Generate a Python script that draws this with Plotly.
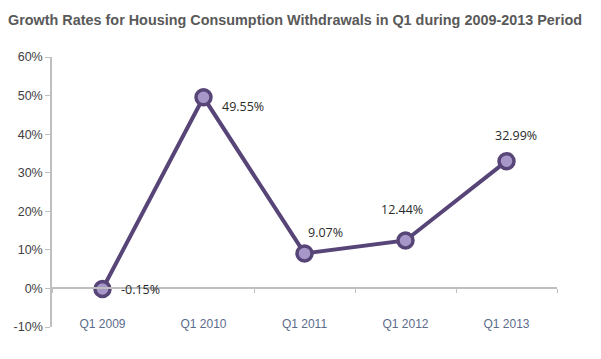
import plotly.graph_objects as go

categories = ["Q1 2009", "Q1 2010", "Q1 2011", "Q1 2012", "Q1 2013"]
values = [-0.15, 49.55, 9.07, 12.44, 32.99]
labels = ["-0.15%", "49.55%", "9.07%", "12.44%", "32.99%"]
y_ticks = [-10, 0, 10, 20, 30, 40, 50, 60]
y_tick_text = ["-10%", "0%", "10%", "20%", "30%", "40%", "50%", "60%"]

# label pixel offsets (style)
label_dx = [38, 39, 21, -4, 9]
label_dy = [0, 9, -21, -31, -26]

LINE = "#574577"
FILL = "#a797c9"

fig = go.Figure()
fig.add_trace(go.Scatter(
    x=categories, y=values, mode="lines+markers",
    line=dict(color=LINE, width=4),
    marker=dict(size=15, color=FILL, line=dict(color=LINE, width=3.5)),
    hoverinfo="skip", showlegend=False, cliponaxis=False,
))
# invisible trace to drive the zero-line axis
fig.add_trace(go.Scatter(
    x=categories, y=values, xaxis="x2", mode="markers",
    marker=dict(size=1, opacity=0), hoverinfo="skip", showlegend=False,
))

for c, v, t, dx, dy in zip(categories, values, labels, label_dx, label_dy):
    fig.add_annotation(x=c, y=v, text=t, showarrow=False, xshift=dx, yshift=-dy,
                       font=dict(family="Open Sans, Liberation Sans, sans-serif", size=12.5, color="#2b2b2b"))

fig.update_layout(
    width=593, height=351,
    margin=dict(l=44, r=44, t=49, b=32, autoexpand=False),
    paper_bgcolor="white", plot_bgcolor="white",
    title=dict(text="<b>Growth Rates for Housing Consumption Withdrawals in Q1 during 2009-2013 Period</b>",
               x=0, xref="container", xanchor="left", y=0.966, yref="container", yanchor="middle",
               pad=dict(l=0, t=0, b=0, r=0),
               font=dict(family="Liberation Sans, Arial, sans-serif", size=14.4, color="#595959")),
    xaxis=dict(type="category", categoryorder="array", categoryarray=categories,
               range=[-0.5, 4.5], showline=False, showgrid=False, zeroline=False,
               ticks="", anchor="free", position=0.045, automargin=False,
               tickfont=dict(family="Liberation Sans, Arial, sans-serif", size=12, color="#5b6b8c")),
    xaxis2=dict(type="category", categoryorder="array", categoryarray=categories,
                overlaying="x", range=[-0.5, 4.5], anchor="free", position=1/7,
                showline=True, linecolor="#bfbfbf", linewidth=1.5,
                ticks="outside", tickson="boundaries", ticklen=4, tickcolor="#bfbfbf",
                showticklabels=False, showgrid=False, zeroline=False, automargin=False),
    yaxis=dict(range=[-10, 60], tickvals=y_ticks, ticktext=y_tick_text,
               showline=True, linecolor="#bfbfbf", linewidth=1.5,
               ticks="outside", ticklen=5, tickcolor="#bfbfbf",
               showgrid=False, zeroline=False, automargin=False,
               tickfont=dict(family="Liberation Sans, Arial, sans-serif", size=12.5, color="#404040")),
)

fig.write_html("out.html")
